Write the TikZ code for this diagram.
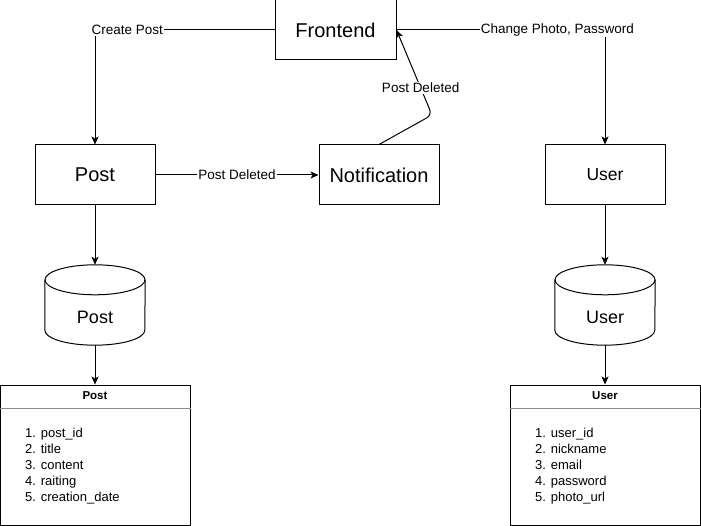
\documentclass[tikz,border=0pt]{standalone}
\usepackage{fontspec}
\setmainfont{Liberation Sans}
\usetikzlibrary{arrows.meta,positioning,calc}
\tikzset{
  every node/.style={font=\fontsize{13.5}{16}\selectfont, text=black},
  box/.style={draw, line width=1pt, minimum width=120pt, minimum height=60pt, font=\fontsize{20}{24}\selectfont},
  dbbox/.style={minimum width=100pt, minimum height=80pt, text height=37pt, text depth=0pt, font=\fontsize{18}{22}\selectfont},
  tablebox/.style={draw, line width=1pt, minimum width=190pt, minimum height=140pt},
  tablehead/.style={font=\fontsize{11.5}{14}\selectfont\bfseries},
  tablelist/.style={anchor=north west, inner sep=0pt, align=left, font=\fontsize{13}{16}\selectfont},
  edgelabel/.style={fill=white, inner sep=1pt, font=\fontsize{13.5}{16}\selectfont},
  arrow/.style={-{Stealth[length=8pt,width=7pt,inset=2pt]}, line width=1pt},
  line/.style={line width=1pt},
  headline/.style={line width=0.8pt, draw=black!45},
}

\begin{document}
\begin{tikzpicture}[x=1pt, y=-1pt]
\useasboundingbox (0,0) rectangle (701,526);
% services
\node[box, minimum width=121pt] (fe) at (335.5,30) {Frontend};
\node[box] (post) at (95,175) {Post};
\node[box] (notif) at (379,175) {Notification};
\node[box, font=\fontsize{17.5}{21}\selectfont] (user) at (605,175) {User};
% databases
\node[dbbox] (postdb) at (95,305) {Post};
\draw[line] ($(postdb.north)+(0,15)$) ellipse [x radius=50pt, y radius=15pt];
\draw[line] ($(postdb.north west)+(0,15)$) -- ($(postdb.south west)+(0,-15)$) arc[start angle=180, end angle=360, x radius=50pt, y radius=15pt] -- ($(postdb.north east)+(0,15)$);
\node[dbbox] (userdb) at (605,305) {User};
\draw[line] ($(userdb.north)+(0,15)$) ellipse [x radius=50pt, y radius=15pt];
\draw[line] ($(userdb.north west)+(0,15)$) -- ($(userdb.south west)+(0,-15)$) arc[start angle=180, end angle=360, x radius=50pt, y radius=15pt] -- ($(userdb.north east)+(0,15)$);
% tables
\node[tablebox] (posttab) at (95,455) {};
\draw[headline] ($(posttab.north west)+(0,24)$) -- ($(posttab.north east)+(0,24)$);
\node[tablehead] (posthead) at ($(posttab.north)+(0,11.5)$) {Post};
\node[tablelist] (postlist) at (25,428) {1. post\_id\\2. title\\3. content\\4. raiting\\5. creation\_date};
\node[tablebox] (usertab) at (605,455) {};
\draw[headline] ($(usertab.north west)+(0,24)$) -- ($(usertab.north east)+(0,24)$);
\node[tablehead] (userhead) at ($(usertab.north)+(0,11.5)$) {User};
\node[tablelist] (userlist) at (535,428) {1. user\_id\\2. nickname\\3. email\\4. password\\5. photo\_url};
% connectors
\coordinate (bend) at (432,115);
\draw[arrow] (fe.west) -| node[edgelabel, pos=0.41] {Create Post} (post.north);
\draw[arrow] (fe.east) -| node[edgelabel, pos=0.386] {Change Photo, Password} (user.north);
\draw[arrow] (post.east) -- node[edgelabel] {Post Deleted} (notif.west);
\draw[arrow, rounded corners=6pt] (notif.north) -- (bend) -- node[edgelabel, pos=0.32] {Post Deleted} (fe.east);
\draw[arrow] (post.south) -- (postdb.north);
\draw[arrow] (postdb.south) -- (posttab.north);
\draw[arrow] (user.south) -- (userdb.north);
\draw[arrow] (userdb.south) -- (usertab.north);
\end{tikzpicture}
\end{document}
